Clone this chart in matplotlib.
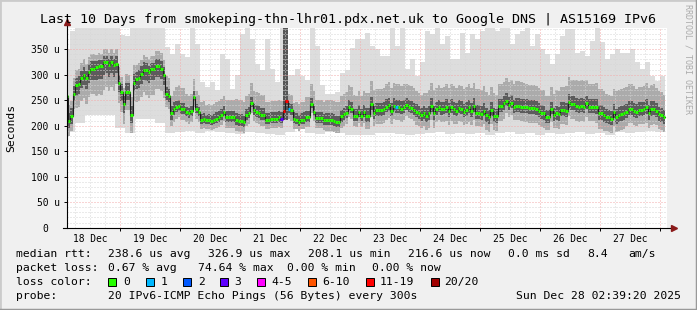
import numpy as np
import matplotlib
matplotlib.use("Agg")
import matplotlib.pyplot as plt
from matplotlib.patches import Rectangle
from matplotlib.lines import Line2D
from matplotlib.ticker import MultipleLocator, FuncFormatter

# hourly median rtt (us), first bin starts Dec 18 02:00
median = [258, 210, 219, 263, 279, 282, 293, 300, 293, 306,
          312, 312, 314, 317, 316, 325, 325, 318, 325, 318,
          321, 284, 266, 243, 266, 265, 221, 283, 291, 294,
          301, 310, 310, 305, 311, 311, 316, 316, 312, 299,
          262, 258, 224, 233, 236, 239, 233, 233, 227, 224,
          228, 257, 232, 226, 212, 214, 211, 212, 210, 212,
          214, 216, 220, 227, 216, 216, 216, 216, 212, 210,
          210, 207, 220, 224, 245, 230, 226, 224, 220, 220,
          212, 212, 214, 214, 214, 216, 214, 229, 248, 233,
          230, 214, 211, 207, 211, 212, 216, 216, 242, 227,
          215, 215, 215, 211, 211, 211, 211, 209, 207, 207,
          218, 222, 224, 237, 233, 219, 219, 227, 219, 227,
          219, 219, 242, 224, 231, 231, 231, 233, 237, 240,
          229, 239, 236, 236, 233, 236, 240, 237, 235, 231,
          227, 224, 220, 224, 219, 224, 239, 224, 232, 237,
          232, 233, 237, 229, 237, 232, 229, 235, 233, 227,
          231, 236, 229, 239, 224, 224, 222, 229, 220, 216,
          231, 219, 219, 239, 239, 244, 249, 241, 245, 236,
          239, 239, 237, 236, 237, 235, 235, 235, 233, 229,
          225, 224, 217, 217, 233, 220, 224, 222, 231, 231,
          229, 247, 242, 242, 239, 237, 239, 237, 244, 237,
          237, 237, 236, 224, 224, 220, 217, 216, 214, 227,
          217, 220, 222, 224, 227, 233, 233, 229, 227, 231,
          231, 232, 236, 225, 232, 233, 229, 222, 220, 216]

# highest ping per 2 hours (top of the smoke)
smoke_max = [350, 385, 392, 392, 392, 392, 392, 392, 392, 392,
             392, 378, 375, 392, 392, 392, 392, 392, 392, 392,
             355, 340, 360, 340, 335, 392, 360, 285, 275, 285,
             270, 340, 330, 272, 300, 380, 392, 370, 320, 310,
             370, 311, 285, 392, 300, 300, 311, 298, 290, 392,
             356, 280, 262, 262, 265, 304, 310, 353, 370, 370,
             382, 356, 350, 337, 337, 392, 356, 392, 311, 330,
             298, 324, 385, 380, 392, 360, 375, 330, 330, 382,
             343, 380, 370, 385, 392, 392, 385, 392, 392, 360,
             380, 385, 392, 356, 380, 350, 340, 320, 340, 375,
             389, 389, 343, 346, 337, 366, 392, 363, 330, 340,
             350, 343, 343, 350, 324, 311, 324, 297, 288, 297]

# lowest ping per 4 hours (bottom of the smoke)
smoke_min = [188, 205, 220, 220, 220, 195, 185, 214, 214, 205,
             185, 188, 190, 186, 190, 188, 186, 184, 188, 186,
             184, 182, 188, 193, 186, 184, 187, 186, 182, 181,
             182, 185, 186, 184, 182, 184, 186, 188, 184, 185,
             184, 186, 182, 185, 187, 184, 186, 182, 185, 184,
             186, 188, 184, 186, 182, 187, 185, 188, 190, 188]

# spread of the denser smoke around the median, per 4 hours
mid_up = [30, 30, 28, 25, 25, 30, 35, 28, 25, 30,
          35, 40, 35, 35, 30, 32, 35, 40, 38, 40,
          35, 35, 30, 35, 40, 35, 40, 40, 42, 40,
          45, 40, 45, 45, 42, 40, 45, 42, 45, 45,
          45, 48, 45, 42, 45, 48, 45, 45, 42, 45,
          48, 50, 45, 48, 45, 50, 48, 45, 48, 45]
mid_dn = [30, 45, 50, 55, 50, 40, 35, 45, 50, 45,
          25, 22, 20, 18, 18, 18, 20, 22, 20, 20,
          18, 18, 20, 18, 18, 20, 22, 22, 20, 22,
          25, 28, 25, 25, 22, 25, 28, 25, 28, 25,
          28, 25, 28, 30, 25, 28, 30, 28, 25, 28,
          28, 30, 28, 30, 28, 30, 28, 28, 30, 28]
core_up = [15, 15, 15, 12, 12, 15, 18, 15, 12, 15,
           14, 12, 10, 10, 10, 12, 12, 12, 12, 14,
           12, 12, 12, 14, 12, 12, 14, 12, 14, 14,
           15, 14, 15, 15, 14, 15, 15, 14, 15, 15,
           15, 16, 15, 14, 15, 16, 15, 15, 14, 15,
           16, 16, 15, 16, 15, 16, 16, 15, 16, 15]
core_dn = [15, 20, 22, 25, 22, 18, 15, 20, 22, 20,
           12, 10, 9, 8, 8, 8, 9, 10, 9, 9,
           8, 8, 9, 8, 8, 9, 10, 10, 9, 10,
           11, 12, 11, 11, 10, 11, 12, 11, 12, 11,
           12, 11, 12, 13, 11, 12, 13, 12, 11, 12,
           12, 13, 12, 13, 12, 13, 12, 12, 13, 12]

# lost pings (of 20) for the few hours that had loss
loss_events = {86: 3, 87: 12, 88: 15, 89: 1, 132: 1}

days = ["18 Dec", "19 Dec", "20 Dec", "21 Dec", "22 Dec",
        "23 Dec", "24 Dec", "25 Dec", "26 Dec", "27 Dec"]
loss_labels = ["0", "1", "2", "3", "4-5", "6-10", "11-19", "20/20"]
loss_colors = ["#26ff00", "#00b8ff", "#0059ff", "#5e00ff",
               "#ff00ff", "#ff5500", "#ff0000", "#a10000"]


def loss_bucket(n):
    if n <= 3:
        return n
    if n <= 5:
        return 4
    if n <= 10:
        return 5
    if n <= 19:
        return 6
    return 7


W, H = 697, 310
mono = "DejaVu Sans Mono"
plt.rcParams["font.family"] = mono

fig = plt.figure(figsize=(W / 100, H / 100), dpi=100, facecolor="#f0f0f0")
ax = fig.add_axes([67 / W, 1 - 227.7 / H, 600 / W, 200 / H])
ax.set_facecolor("white")

med = np.array(median, dtype=float)
n = len(med)
hours = 2 + np.arange(n)
edges = 2 + np.arange(n + 1)

top = np.repeat(smoke_max, 2)[:n]
bot = np.repeat(smoke_min, 4)[:n]
m_hi = med + np.repeat(mid_up, 4)[:n]
m_lo = med - np.repeat(mid_dn, 4)[:n]
c_hi = med + np.repeat(core_up, 4)[:n]
c_lo = med - np.repeat(core_dn, 4)[:n]


def band(lo, hi, color):
    ax.fill_between(edges, np.append(lo, lo[-1]), np.append(hi, hi[-1]),
                    step="post", color=color, lw=0, zorder=1)


band(np.minimum(bot, m_lo), np.maximum(top, m_hi), "#dddddd")
band(m_lo, m_hi, "#ababab")
band(c_lo, c_hi, "#5c5c5c")

# hours with heavy loss show as a dark column
heavy = [h for h, c in loss_events.items() if c >= 10]
if heavy:
    floor = min(m_lo[h] for h in heavy)
    for h in heavy:
        ax.fill_between([hours[h], hours[h] + 1], floor, 392,
                        color="#555555", lw=0, zorder=1.5)

ax.step(edges, np.append(med, med[-1]), where="post",
        color="#1e1e1e", lw=0.8, zorder=3)
cols = [loss_colors[loss_bucket(loss_events.get(i, 0))] for i in range(n)]
ax.hlines(med, hours, hours + 1, colors=cols, lw=2.2, zorder=4)

ax.set_xlim(2.656, 242.656)
ax.set_ylim(0, 392)
ax.set_axisbelow(False)

ax.xaxis.set_major_locator(MultipleLocator(24))
ax.xaxis.set_minor_locator(MultipleLocator(6))
ax.yaxis.set_major_locator(MultipleLocator(50))
ax.yaxis.set_minor_locator(MultipleLocator(10))

ax.xaxis.set_major_formatter(FuncFormatter(lambda v, p: ""))
ax.xaxis.set_minor_formatter(FuncFormatter(
    lambda v, p: days[int(v // 24)] if int(round(v)) % 24 == 12 and 0 <= int(v // 24) < len(days) else ""))
ax.yaxis.set_major_formatter(FuncFormatter(
    lambda v, p: "0  " if v == 0 else f"{int(v)} u"))

ax.grid(which="major", color="#f3aaaa", lw=0.72, ls=(0, (1, 2)))
ax.grid(which="minor", color="#d6d6d6", lw=0.72, ls=(0, (1, 2)))

ax.tick_params(axis="x", which="major", length=2, width=0.7, labelsize=6.9, pad=1)
ax.tick_params(axis="x", which="minor", length=0, labelsize=6.9, pad=4.5)
ax.tick_params(axis="y", which="major", length=2.5, width=0.7, labelsize=6.9, pad=2.6)
ax.tick_params(axis="y", which="minor", length=0)

for s in ax.spines.values():
    s.set_visible(False)
ax.plot([-0.006, 1.008], [0, 0], transform=ax.transAxes, color="black",
        lw=0.8, clip_on=False, zorder=6)
ax.plot([0, 0], [0, 1.02], transform=ax.transAxes, color="black",
        lw=0.8, clip_on=False, zorder=6)
ax.plot([1.011], [0], marker=">", ms=4, color="#8b1a1a",
        transform=ax.transAxes, clip_on=False, zorder=7)
ax.plot([0], [1.026], marker="^", ms=4, color="#8b1a1a",
        transform=ax.transAxes, clip_on=False, zorder=7)


def ftext(x, y, s, **kw):
    kw.setdefault("fontsize", 8.2)
    kw.setdefault("va", "center")
    fig.text(x / W, 1 - y / H, s, **kw)


ftext(348.5, 19, "Last 10 Days from smokeping-thn-lhr01.pdx.net.uk to Google DNS | AS15169 IPv6",
      ha="center", fontsize=9.6)
ftext(11, 128, "Seconds", ha="center", rotation=90)
ftext(688, 4, "RRDTOOL / TOBI OETIKER", ha="center", va="top",
      rotation=270, fontsize=6, color="#ababab")

row1, row2, row3, row4 = 254, 268, 282, 296
ftext(16.4, row1, "median rtt:")
for x, s in [(107.6, "238.6 us avg"), (207.6, "326.9 us max"), (307.6, "208.1 us min"),
             (407.6, "216.6 us now"), (507.6, "0.0 ms sd"), (587.6, "8.4"), (628, "am/s")]:
    ftext(x, row1, s)
ftext(16.4, row2, "packet loss:")
for x, s in [(107.6, "0.67 % avg"), (197.8, "74.64 % max"), (286.7, "0.00 % min"),
             (372.4, "0.00 % now")]:
    ftext(x, row2, s)
ftext(16.4, row3, "loss color:")
sq_x = [108, 145.5, 183, 220, 257, 308, 365.5, 430.5]
lab_x = [123, 160.4, 197.8, 234.7, 271.6, 322, 380, 444]
for sx, lx, lab, c in zip(sq_x, lab_x, loss_labels, loss_colors):
    fig.add_artist(Rectangle((sx / W, 1 - (row3 + 4) / H), 8 / W, 8 / H,
                             transform=fig.transFigure, facecolor=c,
                             edgecolor="black", lw=0.7))
    ftext(lx, row3, lab)
ftext(16.4, row4, "probe:")
ftext(107.6, row4, "20 IPv6-ICMP Echo Pings (56 Bytes) every 300s")
ftext(680.5, row4, "Sun Dec 28 02:39:20 2025", ha="right")

# frame around the canvas
fig.add_artist(Line2D([0, 0], [0, 1], transform=fig.transFigure, color="#cbcbcb", lw=2))
fig.add_artist(Line2D([0, 1], [1, 1], transform=fig.transFigure, color="#cbcbcb", lw=2))
fig.add_artist(Line2D([1, 1], [0, 1], transform=fig.transFigure, color="#999999", lw=2.5))
fig.add_artist(Line2D([0, 1], [0, 0], transform=fig.transFigure, color="#999999", lw=2.5))

fig.savefig("out.png", dpi=100, facecolor=fig.get_facecolor())
